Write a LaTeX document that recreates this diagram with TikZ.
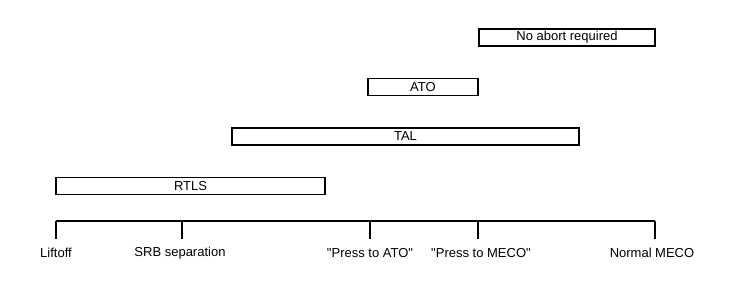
\documentclass[tikz,border=0pt]{standalone}
\usepackage{fontspec}
\setmainfont{Liberation Sans}
\begin{document}
\begin{tikzpicture}[x=1pt,y=-1pt,
  bar/.style={draw, line width=1.7pt, minimum height=17pt, inner sep=0pt, font=\fontsize{13}{15}\selectfont},
  lbl/.style={font=\fontsize{13}{15}\selectfont, inner sep=0pt},
  axis/.style={line width=1.7pt}]
\useasboundingbox (0,0) rectangle (730,287);
\node[bar, minimum width=176pt] (noabort) at (567,37.5) {No abort required};
\node[bar, minimum width=110pt] (ato) at (423,87) {ATO};
\node[bar, minimum width=347pt] (tal) at (405.5,136.5) {TAL};
\node[bar, minimum width=269pt] (rtls) at (190.5,186) {RTLS};
\coordinate (a0) at (56,221);
\coordinate (a1) at (182,221);
\coordinate (a2) at (370,221);
\coordinate (a3) at (478,221);
\coordinate (a4) at (655,221);
\draw[axis] (a0) -- (a4);
\foreach \p/\t/\c/\n in {a0/Liftoff/56/l0, a1/SRB separation/180/l1, a2/\textquotedbl Press to ATO\textquotedbl/370/l2, a3/\textquotedbl Press to MECO\textquotedbl/481/l3, a4/Normal MECO/652/l4}{
  \draw[axis] (\p) -- ++(0,18);
  \node[lbl] (\n) at (\c,253) {\t};
}
\end{tikzpicture}
\end{document}
